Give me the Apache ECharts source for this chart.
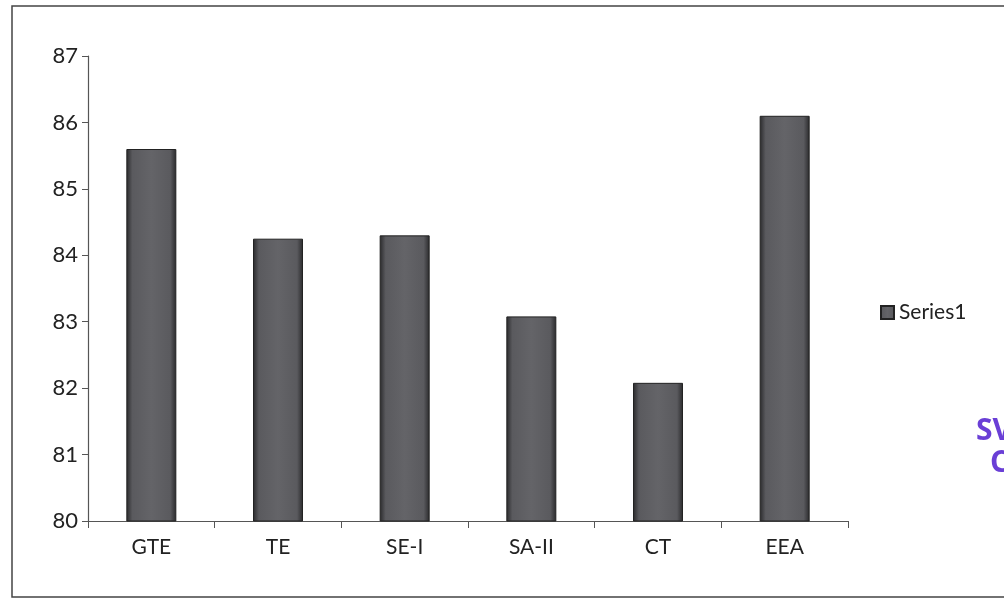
<!DOCTYPE html>
<html>
<head>
<meta charset="utf-8">
<script src="https://cdn.jsdelivr.net/npm/echarts@6/dist/echarts.min.js"></script>
<style>
  html, body { margin: 0; padding: 0; background: #fff; }
  #chart { width: 1004px; height: 610px; }
</style>
</head>
<body>
<div id="chart"></div>
<script>
// data
const categories = ["GTE", "TE", "SE-I", "SA-II", "CT", "EEA"];
const series1 = [85.6, 84.25, 84.3, 83.08, 82.08, 86.1];
const yTicks = [80, 81, 82, 83, 84, 85, 86, 87];

const chart = echarts.init(document.getElementById("chart"));
const font = "Lato, 'Open Sans', sans-serif";

chart.setOption({
  backgroundColor: "#ffffff",
  animation: false,
  grid: { left: 88, right: 156, top: 56, bottom: 89 },
  legend: {
    data: ["Series1"],
    left: 875,
    top: 297,
    itemWidth: 13,
    itemHeight: 13,
    itemGap: 5,
    icon: "rect",
    textStyle: { fontFamily: font, fontSize: 21, color: "#222" }
  },
  xAxis: {
    type: "category",
    data: categories,
    axisLine: { lineStyle: { color: "#555", width: 1.2 } },
    axisTick: { show: true, length: 7, lineStyle: { color: "#555" } },
    axisLabel: { margin: 16, fontFamily: font, fontSize: 21, color: "#222" }
  },
  yAxis: {
    type: "value",
    min: yTicks[0],
    max: yTicks[yTicks.length - 1],
    interval: 1,
    splitLine: { show: false },
    axisLine: { show: true, lineStyle: { color: "#555", width: 1.2 } },
    axisTick: { show: true, length: 6, lineStyle: { color: "#555" } },
    axisLabel: { margin: 10, fontFamily: font, fontSize: 22, color: "#222" }
  },
  series: [{
    name: "Series1",
    type: "bar",
    data: series1,
    barWidth: 50,
    itemStyle: {
      color: new echarts.graphic.LinearGradient(0, 0, 1, 0, [
        { offset: 0, color: "#29292b" },
        { offset: 0.12, color: "#5a5a5e" },
        { offset: 0.5, color: "#646468" },
        { offset: 0.88, color: "#5a5a5e" },
        { offset: 1, color: "#29292b" }
      ]),
      borderColor: "#222",
      borderWidth: 1
    }
  }],
  graphic: [
    {
      type: "rect",
      shape: { x: 12, y: 6, width: 1010, height: 591 },
      style: { fill: "none", stroke: "#444", lineWidth: 1.5 },
      silent: true
    },
    {
      type: "text",
      left: 976, top: 416,
      style: { text: "SV", fill: "#6a3fd6", font: "bold 30px 'Open Sans', sans-serif" }
    },
    {
      type: "text",
      left: 990, top: 448,
      style: { text: "C", fill: "#6a3fd6", font: "bold 30px 'Open Sans', sans-serif" }
    }
  ]
});
</script>
</body>
</html>
